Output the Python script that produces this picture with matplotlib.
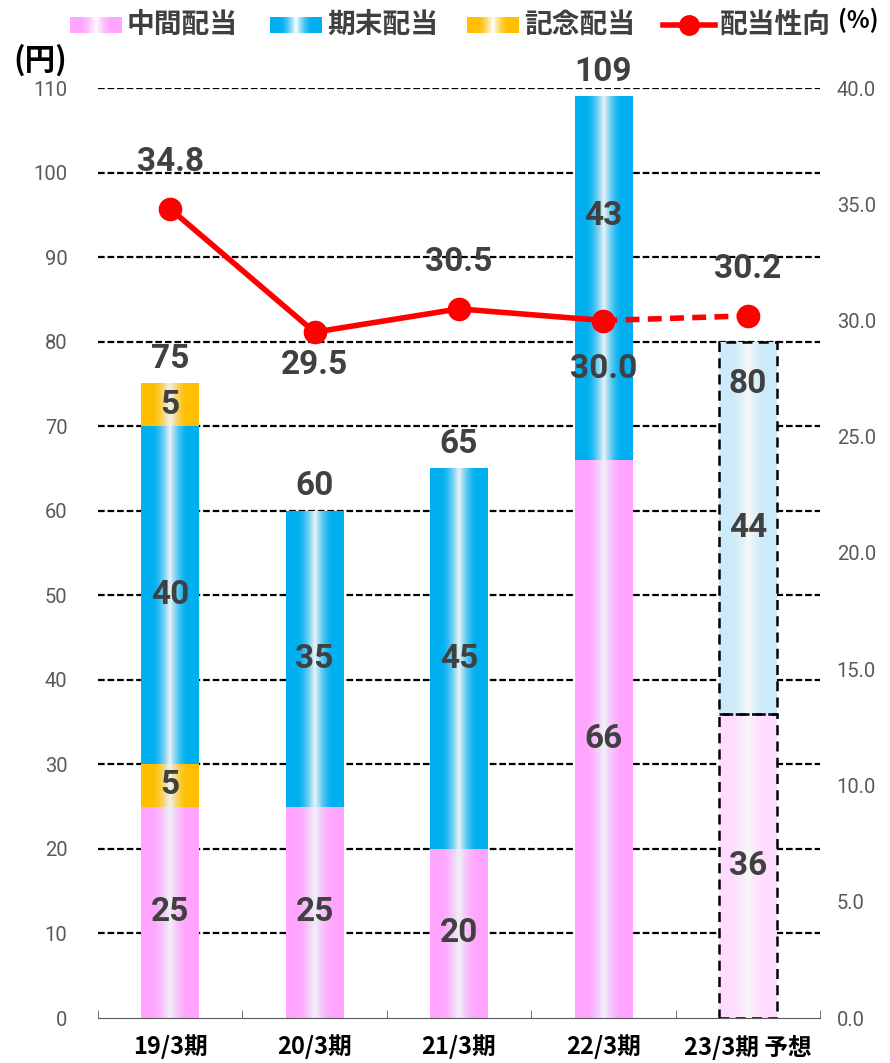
import numpy as np
import matplotlib.pyplot as plt
from matplotlib.patches import Rectangle

plt.rcParams['font.family'] = ['Roboto', 'Noto Sans CJK JP', 'DejaVu Sans']

categories = ['19/3期', '20/3期', '21/3期', '22/3期', '23/3期 予想']
interim = [25, 25, 20, 66, 36]          # 中間配当
interim_comm = [5, 0, 0, 0, 0]          # 記念配当 (中間)
year_end = [40, 35, 45, 43, 44]         # 期末配当
year_end_comm = [5, 0, 0, 0, 0]         # 記念配当 (期末)
payout = [34.8, 29.5, 30.5, 30.0, 30.2]  # 配当性向 (%)
payout_above = [True, False, True, False, True]
forecast = [False, False, False, False, True]

PINK = (1.0, 0.65, 1.0)
BLUE = (0.0, 0.69, 0.94)
GOLD = (1.0, 0.75, 0.0)
PINK_L = (1.0, 0.86, 1.0)
BLUE_L = (0.80, 0.92, 0.98)
DARK = '#404040'
GRAY = '#595959'

W = 0.4


def grad(color, n=200, center=(0.94, 0.96, 0.98)):
    t = np.linspace(0, 1, n)
    d = np.abs(t - 0.5) * 2
    w = np.clip(1 - d / 0.6, 0, 1) ** 1.6
    c = np.array(color)[None, :] * (1 - w[:, None]) + np.array(center)[None, :] * w[:, None]
    return c[None, :, :]


fig = plt.figure(figsize=(8.9, 10.63), dpi=100)
ax = fig.add_axes([98 / 890, 1 - 1018 / 1063, 722 / 890, 930 / 1063])
x = np.arange(len(categories))

for i in x:
    segs = [(interim[i], PINK_L if forecast[i] else PINK),
            (interim_comm[i], GOLD),
            (year_end[i], BLUE_L if forecast[i] else BLUE),
            (year_end_comm[i], GOLD)]
    bottom = 0
    for k, (h, col) in enumerate(segs):
        if h == 0:
            continue
        ctr = (0.97, 0.97, 0.97) if forecast[i] else (0.93, 0.95, 0.97)
        ax.imshow(grad(col, center=ctr), extent=[i - W / 2, i + W / 2, bottom, bottom + h],
                  aspect='auto', zorder=2, interpolation='bilinear')
        ypos = bottom + h / 2
        if i == 3 and k == 2:
            ypos = bottom + h * 0.67
        ax.text(i, ypos, f'{h}', ha='center', va='center', fontsize=24,
                fontweight='bold', color=DARK, zorder=4)
        if forecast[i]:
            ax.add_patch(Rectangle((i - W / 2, bottom), W, h, fill=False, ec='black',
                                   lw=1.8, ls=(0, (4, 2.5)), zorder=3))
        bottom += h
    if forecast[i]:
        ax.text(i, bottom - 5, f'{bottom}', ha='center', va='center', fontsize=24,
                fontweight='bold', color=DARK, zorder=4)
    else:
        ax.text(i, bottom + 2.9, f'{bottom}', ha='center', va='center', fontsize=24,
                fontweight='bold', color=DARK, zorder=4)

ax.set_xlim(-0.5, len(categories) - 0.5)
ax.set_ylim(0, 110)
ax.set_yticks(range(0, 111, 10))
ax.yaxis.grid(True, color='black', lw=1.6, ls=(0, (3, 1.3)))
ax.yaxis.get_gridlines()[0].set_visible(False)
ax.set_axisbelow(True)
for s in ['left', 'right', 'top']:
    ax.spines[s].set_visible(False)
ax.spines['bottom'].set_color(GRAY)
ax.spines['bottom'].set_zorder(5)
ax.tick_params(axis='y', length=0, labelsize=14.5, labelcolor=GRAY, pad=22)
ax.set_xticks(x)
ax.set_xticklabels(categories, fontsize=17, fontweight='bold', color='black',
                   family=['Noto Sans CJK JP'])
ax.tick_params(axis='x', which='major', length=0, pad=12)
ax.set_xticks(np.arange(-0.5, len(categories)), minor=True)
ax.tick_params(axis='x', which='minor', direction='in', length=6, color=GRAY)

ax2 = ax.twinx()
ax2.set_ylim(0, 40)
ax2.set_yticks(np.arange(0, 40.1, 5))
ax2.set_yticklabels([f'{v:.1f}' for v in np.arange(0, 40.1, 5)])
ax2.tick_params(axis='y', length=0, labelsize=14.5, labelcolor=GRAY, pad=12)
for s in ax2.spines.values():
    s.set_visible(False)
ax2.plot(x[:4], payout[:4], color='red', lw=4, marker='o', ms=16, zorder=3)
ax2.plot(x[3:], payout[3:], color='red', lw=4, ls=(0, (2.5, 1.5)), zorder=3)
ax2.plot(x[4:], payout[4:], color='red', marker='o', ms=16, ls='none', zorder=3)
for i in x:
    off = 34 if payout_above[i] else (-24 if i == 1 else -35)
    ax2.annotate(f'{payout[i]:.1f}', (i, payout[i]), xytext=(0, off),
                 textcoords='offset points', ha='center', va='center',
                 fontsize=24, fontweight='bold', color=DARK)

# legend and unit labels in pixel coordinates
lg = fig.add_axes([0, 0, 1, 1])
lg.set_xlim(0, 890)
lg.set_ylim(1063, 0)
lg.axis('off')
lg.patch.set_alpha(0)
for x0, col, label in [(70, PINK, '中間配当'), (270, BLUE, '期末配当'), (467, GOLD, '記念配当')]:
    lg.imshow(grad(col, center=(1, 1, 1)), extent=[x0, x0 + 52, 33, 17], aspect='auto')
    lg.text(x0 + 57, 25, label, ha='left', va='center', fontsize=20, fontweight='bold',
            color=DARK, family=['Noto Sans CJK JP'])
lg.plot([663, 715], [25, 25], color='red', lw=4)
lg.plot([689], [25], color='red', marker='o', ms=14)
lg.text(720, 25, '配当性向', ha='left', va='center', fontsize=20, fontweight='bold',
        color=DARK, family=['Noto Sans CJK JP'])
lg.text(858, 20, '(%)', ha='center', va='center', fontsize=17, fontweight='bold',
        color='black', family=['Noto Sans CJK JP'])
lg.text(40, 60, '(円)', ha='center', va='center', fontsize=22, fontweight='bold',
        color='black', family=['Noto Sans CJK JP'])
lg.set_xlim(0, 890)
lg.set_ylim(1063, 0)

fig.savefig('out.png', dpi=100)
